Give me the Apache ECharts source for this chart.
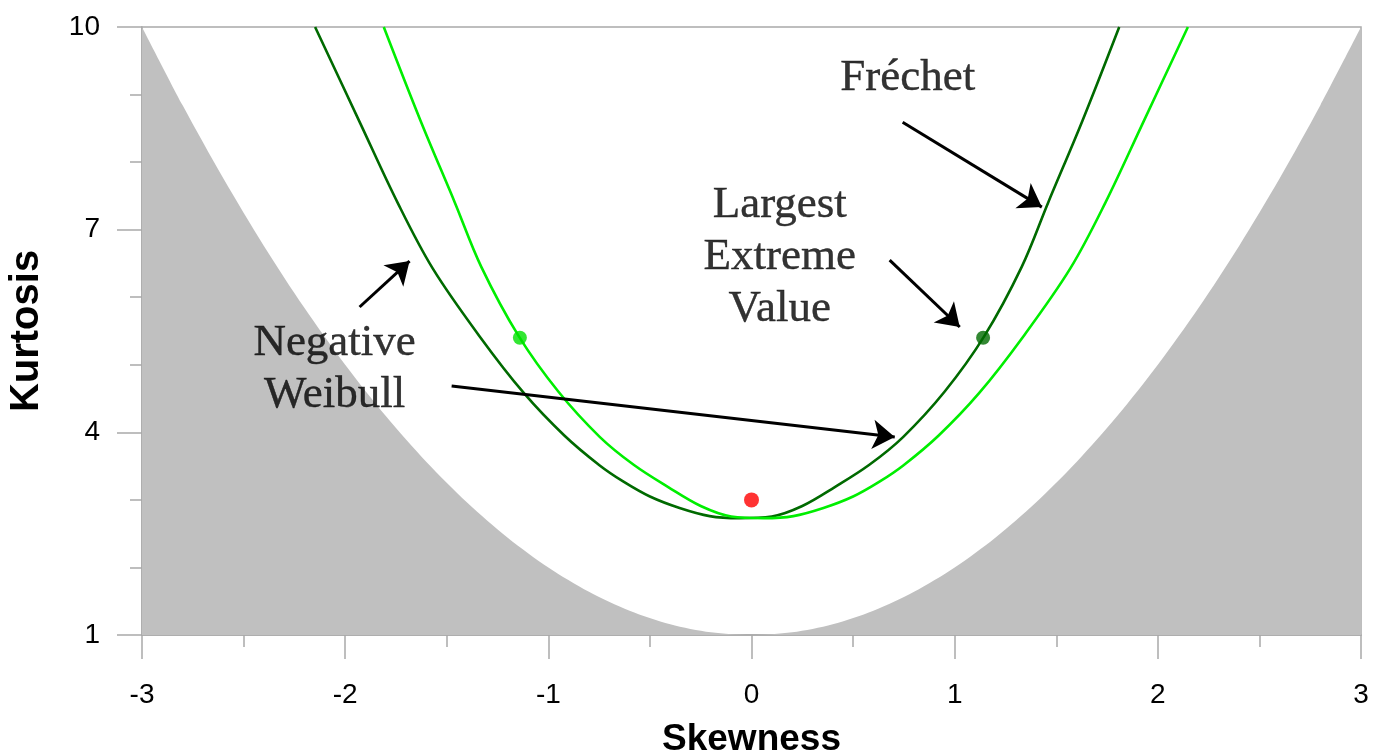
<!DOCTYPE html>
<html>
<head>
<meta charset="utf-8">
<script src="https://cdn.jsdelivr.net/npm/echarts@6/dist/echarts.min.js"></script>
<style>
html,body{margin:0;padding:0;background:#fff;}
#chart{width:1376px;height:756px;}
</style>
</head>
<body>
<div id="chart"></div>
<script>
// ---- data ----
const xTicks = [-3, -2, -1, 0, 1, 2, 3];
const yMajorTicks = [1, 4, 7, 10];
const yMinorTicks = [2, 3, 5, 6, 8, 9];

// boundary of the impossible region (grey)
const boundSkew = [-3,-2.8,-2.6,-2.4,-2.2,-2,-1.8,-1.6,-1.4,-1.2,-1,-0.8,-0.6,-0.4,-0.2,0,0.2,0.4,0.6,0.8,1,1.2,1.4,1.6,1.8,2,2.2,2.4,2.6,2.8,3];
const boundKurt = [10,8.84,7.76,6.76,5.84,5,4.24,3.56,2.96,2.44,2,1.64,1.36,1.16,1.04,1,1.04,1.16,1.36,1.64,2,2.44,2.96,3.56,4.24,5,5.84,6.76,7.76,8.84,10];

// dark green curve (Negative Weibull -> Fréchet)
const darkSkew = [-2.148,-1.925,-1.742,-1.57,-1.338,-1.12,-0.92,-0.747,-0.63,-0.5,-0.354,-0.206,-0.06,0.1,0.25,0.41,0.58,0.746,0.95,1.145,1.33,1.46,1.63,1.81];
const darkKurt = [10,8.57,7.40,6.43,5.42,4.58,3.95,3.51,3.27,3.05,2.88,2.76,2.73,2.755,2.91,3.19,3.52,3.93,4.6,5.42,6.45,7.40,8.62,10];

// light green curve (mirror family)
const lightSkew = [-1.81,-1.63,-1.46,-1.33,-1.145,-0.95,-0.746,-0.58,-0.41,-0.25,-0.1,0.06,0.206,0.354,0.5,0.63,0.747,0.92,1.12,1.338,1.57,1.742,1.925,2.148];
const lightKurt = [10,8.62,7.40,6.45,5.42,4.6,3.93,3.52,3.19,2.91,2.755,2.73,2.76,2.88,3.05,3.27,3.51,3.95,4.58,5.42,6.43,7.40,8.57,10];

// points
const largestEV = [1.14, 5.4];
const smallestEV = [-1.14, 5.4];
const normalPt = [0, 3];

// annotations
const noteNames = ['Fréchet', 'Largest\nExtreme\nValue', 'Negative\nWeibull'];
const noteSkew = [0.769, 0.139, -2.052];
const noteKurt = [9.241, 6.594, 4.938];

// arrows
const arrowFromSkew = [0.744, 0.680, -1.929, -1.476];
const arrowFromKurt = [8.591, 6.55, 5.855, 4.687];
const arrowToSkew = [1.429, 1.025, -1.683, 0.705];
const arrowToKurt = [7.334, 5.559, 6.535, 3.932];

// ---- chart ----
const pairs = (xs, ys) => xs.map((x, i) => [x, ys[i]]);
const axisGray = '#a9a9a9';
const sans = "'Liberation Sans', Arial, sans-serif";
const serif = "'Liberation Serif', 'Times New Roman', serif";

const chart = echarts.init(document.getElementById('chart'), null, {renderer: 'canvas'});

const option = {
  animation: false,
  backgroundColor: '#ffffff',
  grid: {
    left: 142, top: 27, right: 15, bottom: 121,
    containLabel: false, outerBoundsMode: 'none',
    show: true, borderColor: axisGray, borderWidth: 1.5, backgroundColor: 'transparent'
  },
  xAxis: {
    type: 'value', min: -3, max: 3, interval: 1,
    name: 'Skewness', nameLocation: 'middle', nameGap: 86,
    nameTextStyle: {fontFamily: sans, fontWeight: 'bold', fontSize: 37, color: '#000'},
    axisLine: {show: true, onZero: false, lineStyle: {color: axisGray, width: 1.5}},
    axisTick: {show: true, length: 24, lineStyle: {color: axisGray, width: 1.5}},
    minorTick: {show: true, splitNumber: 2, length: 12, lineStyle: {color: axisGray, width: 1.5}},
    splitLine: {show: false},
    axisLabel: {
      fontFamily: sans, fontSize: 28, color: '#000', margin: 46,
      customValues: xTicks
    }
  },
  yAxis: [{
    type: 'value', min: 1, max: 10, position: 'left',
    name: 'Kurtosis', nameLocation: 'middle', nameGap: 95, nameRotate: 90,
    nameTextStyle: {fontFamily: sans, fontWeight: 'bold', fontSize: 40, color: '#000'},
    axisLine: {show: true, onZero: false, lineStyle: {color: axisGray, width: 1.5}},
    axisTick: {show: true, length: 25, customValues: yMajorTicks, lineStyle: {color: axisGray, width: 1.5}},
    splitLine: {show: false},
    axisLabel: {fontFamily: sans, fontSize: 28, color: '#000', margin: 42, customValues: yMajorTicks}
  }, {
    type: 'value', min: 1, max: 10, position: 'left', offset: 0,
    axisLine: {show: false, onZero: false},
    axisTick: {show: true, length: 12, customValues: yMinorTicks, lineStyle: {color: axisGray, width: 1.5}},
    axisLabel: {show: false, customValues: yMinorTicks},
    splitLine: {show: false}
  }],
  series: [
    {
      name: 'Impossible region', type: 'line', data: pairs(boundSkew, boundKurt),
      smooth: 0.3, symbol: 'none', silent: true,
      lineStyle: {width: 0, color: '#c0c0c0'},
      areaStyle: {color: '#c0c0c0', opacity: 1, origin: 'start'},
      z: 1
    },
    {
      name: 'GEV', type: 'line', data: pairs(darkSkew, darkKurt),
      smooth: 0.35, symbol: 'none',
      lineStyle: {width: 2.6, color: '#006a00'}, z: 3
    },
    {
      name: 'GEV mirrored', type: 'line', data: pairs(lightSkew, lightKurt),
      smooth: 0.35, symbol: 'none',
      lineStyle: {width: 2.6, color: '#00ee00'}, z: 4
    },
    {
      name: 'Largest EV', type: 'scatter', data: [largestEV], symbolSize: 14,
      itemStyle: {color: '#006a00'}, z: 6
    },
    {
      name: 'Smallest EV', type: 'scatter', data: [smallestEV], symbolSize: 14,
      itemStyle: {color: '#00e000'}, z: 6
    },
    {
      name: 'Normal', type: 'scatter', data: [normalPt], symbolSize: 15,
      itemStyle: {color: '#ff0000'}, z: 6
    },
    {
      name: 'Notes', type: 'scatter', symbolSize: 0, z: 8,
      data: noteNames.map((n, i) => ({name: n, value: [noteSkew[i], noteKurt[i]]})),
      label: {
        show: true, position: 'inside', formatter: '{b}',
        fontFamily: serif, fontSize: 45, lineHeight: 52, color: '#000',
        textBorderColor: '#000', textBorderWidth: 0.4,
        align: 'center', verticalAlign: 'middle'
      },
      markLine: {
        silent: true, animation: false,
        symbol: ['none', 'arrow'], symbolSize: 22,
        lineStyle: {color: '#000', width: 3, type: 'solid'},
        label: {show: false},
        data: arrowFromSkew.map((x, i) => [
          {coord: [x, arrowFromKurt[i]]},
          {coord: [arrowToSkew[i], arrowToKurt[i]]}
        ])
      }
    }
  ]
};
chart.setOption(option);
</script>
</body>
</html>
